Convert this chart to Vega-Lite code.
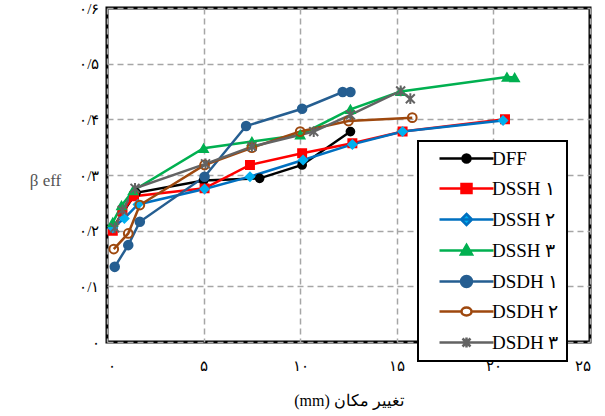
{
  "$schema": "https://vega.github.io/schema/vega-lite/v6.json",
  "width": 483,
  "height": 334,
  "autosize": {"type": "none"},
  "padding": {"left": 107, "top": 8, "right": 15, "bottom": 74},
  "background": "white",
  "config": {
    "view": {"stroke": "black", "strokeWidth": 3},
    "font": "Liberation Serif",
    "legend": {"labelFont": "Liberation Serif, serif", "labelFontWeight": 400},
    "axis": {
      "gridColor": "#A6A6A6",
      "gridDash": [6, 4],
      "gridWidth": 1.5,
      "domain": false,
      "ticks": false,
      "labelFont": "Liberation Serif",
      "labelFontSize": 15,
      "labelColor": "black",
      "titleFont": "Liberation Serif",
      "titleFontWeight": "normal",
      "titleColor": "black"
    }
  },
  "data": {
    "values": [
      {"s": "DFF", "x": 0.3, "y": 0.205},
      {"s": "DFF", "x": 1.5, "y": 0.268},
      {"s": "DFF", "x": 5.0, "y": 0.29},
      {"s": "DFF", "x": 7.9, "y": 0.294},
      {"s": "DFF", "x": 10.1, "y": 0.318},
      {"s": "DFF", "x": 12.6, "y": 0.378},
      {"s": "DSSH ۱", "x": 0.3, "y": 0.2},
      {"s": "DSSH ۱", "x": 0.8, "y": 0.235},
      {"s": "DSSH ۱", "x": 1.4, "y": 0.262},
      {"s": "DSSH ۱", "x": 5.05, "y": 0.276},
      {"s": "DSSH ۱", "x": 7.4, "y": 0.318},
      {"s": "DSSH ۱", "x": 10.1, "y": 0.339},
      {"s": "DSSH ۱", "x": 12.7, "y": 0.357},
      {"s": "DSSH ۱", "x": 15.3, "y": 0.378},
      {"s": "DSSH ۱", "x": 20.6, "y": 0.4},
      {"s": "DSSH ۲", "x": 0.3, "y": 0.205},
      {"s": "DSSH ۲", "x": 0.9, "y": 0.222},
      {"s": "DSSH ۲", "x": 1.6, "y": 0.247},
      {"s": "DSSH ۲", "x": 5.05, "y": 0.275},
      {"s": "DSSH ۲", "x": 7.4, "y": 0.297},
      {"s": "DSSH ۲", "x": 10.15, "y": 0.327},
      {"s": "DSSH ۲", "x": 12.7, "y": 0.355},
      {"s": "DSSH ۲", "x": 15.3, "y": 0.378},
      {"s": "DSSH ۲", "x": 20.5, "y": 0.398},
      {"s": "DSSH ۳", "x": 0.3, "y": 0.215},
      {"s": "DSSH ۳", "x": 0.75, "y": 0.245},
      {"s": "DSSH ۳", "x": 1.35, "y": 0.272},
      {"s": "DSSH ۳", "x": 5.0, "y": 0.348},
      {"s": "DSSH ۳", "x": 7.5, "y": 0.36},
      {"s": "DSSH ۳", "x": 10.0, "y": 0.372},
      {"s": "DSSH ۳", "x": 12.6, "y": 0.418},
      {"s": "DSSH ۳", "x": 15.2, "y": 0.45},
      {"s": "DSSH ۳", "x": 20.7, "y": 0.476},
      {"s": "DSSH ۳", "x": 21.1, "y": 0.475},
      {"s": "DSDH ۱", "x": 0.4, "y": 0.135},
      {"s": "DSDH ۱", "x": 1.1, "y": 0.174},
      {"s": "DSDH ۱", "x": 1.7, "y": 0.216},
      {"s": "DSDH ۱", "x": 5.05, "y": 0.297},
      {"s": "DSDH ۱", "x": 7.2, "y": 0.388},
      {"s": "DSDH ۱", "x": 10.1, "y": 0.419},
      {"s": "DSDH ۱", "x": 12.2, "y": 0.449},
      {"s": "DSDH ۱", "x": 12.6, "y": 0.449},
      {"s": "DSDH ۲", "x": 0.35, "y": 0.167},
      {"s": "DSDH ۲", "x": 1.1, "y": 0.195},
      {"s": "DSDH ۲", "x": 1.7, "y": 0.246},
      {"s": "DSDH ۲", "x": 5.05, "y": 0.318},
      {"s": "DSDH ۲", "x": 7.5, "y": 0.349},
      {"s": "DSDH ۲", "x": 10.0, "y": 0.378},
      {"s": "DSDH ۲", "x": 12.5, "y": 0.397},
      {"s": "DSDH ۲", "x": 15.8, "y": 0.403},
      {"s": "DSDH ۳", "x": 0.4, "y": 0.205},
      {"s": "DSDH ۳", "x": 0.8, "y": 0.237},
      {"s": "DSDH ۳", "x": 1.45, "y": 0.276},
      {"s": "DSDH ۳", "x": 5.1, "y": 0.32},
      {"s": "DSDH ۳", "x": 7.5, "y": 0.351},
      {"s": "DSDH ۳", "x": 10.7, "y": 0.378},
      {"s": "DSDH ۳", "x": 12.6, "y": 0.408},
      {"s": "DSDH ۳", "x": 15.2, "y": 0.451},
      {"s": "DSDH ۳", "x": 15.7, "y": 0.437}
    ]
  },
  "encoding": {
    "x": {
      "field": "x", "type": "quantitative",
      "scale": {"domain": [0, 25], "nice": false},
      "axis": {
        "values": [0, 5, 10, 15, 20, 25],
        "labelExpr": "['۰','۵','۱۰','۱۵','۲۰','۲۵'][round(datum.value/5)]",
        "labelPadding": 16,
        "title": "(mm) تغییر مکان",
        "titleFontSize": 16,
        "titlePadding": 19
      }
    },
    "y": {
      "field": "y", "type": "quantitative",
      "scale": {"domain": [0, 0.6], "nice": false},
      "axis": {
        "values": [0, 0.1, 0.2, 0.3, 0.4, 0.5, 0.6],
        "labelExpr": "datum.value == 0 ? '۰' : '۰/' + ['','۱','۲','۳','۴','۵','۶'][round(datum.value*10)]",
        "labelPadding": 8,
        "title": "β eff",
        "titleAngle": 0,
        "titleFontSize": 17,
        "titleColor": "#555555",
        "titleX": -62,
        "titleY": 172,
        "titleAlign": "center",
        "titleBaseline": "middle"
      }
    }
  },
  "layer": [
    {
      "mark": {"type": "line", "strokeWidth": 2.5},
      "encoding": {
        "stroke": {
          "field": "s", "type": "nominal",
          "scale": {
            "domain": ["DFF", "DSSH ۱", "DSSH ۲", "DSSH ۳", "DSDH ۱", "DSDH ۲", "DSDH ۳"],
            "range": ["#000000", "#FF0000", "#0070C0", "#00B050", "#255E91", "#9E480E", "#636363"]
          },
          "legend": {
            "title": null,
            "orient": "none",
            "legendX": 311,
            "legendY": 133,
            "padding": 8,
            "symbolSize": 100,
            "symbolOffset": 31,
            "labelOffset": 16,
            "rowPadding": 10,
            "labelFontSize": 19,
            "labelColor": "black",
            "labelLimit": 200,
            "symbolStrokeWidth": 2.5,
            "encode": {
              "legend": {"update": {"stroke": {"value": "black"}, "strokeWidth": {"value": 2}, "fill": {"value": "white"}}},
              "symbols": {
                "update": {
                  "shape": {"signal": "['M-5.4,0L5.4,0M-0.8,0A0.8,0.8 0 1,1 0.8,0A0.8,0.8 0 1,1 -0.8,0Z','M-5.4,0L5.4,0M-1,-0.9H1V0.9H-1Z','M-5.4,0L5.4,0M0,-1.1L1.1,0L0,1.1L-1.1,0Z','M-5.4,0L5.4,0M0,-1.1L1.1,0.8L-1.1,0.8Z','M-5.4,0L5.4,0M-1.1,0A1.1,1.1 0 1,1 1.1,0A1.1,1.1 0 1,1 -1.1,0Z','M-5.4,0L-1,0M1,0L5.4,0M-1,0A1,0.8 0 1,1 1,0A1,0.8 0 1,1 -1,0Z','M-5.4,0L5.4,0M-0.8,-0.8L0.8,0.8M-0.8,0.8L0.8,-0.8M0,-1L0,1'][indexof(['DFF','DSSH ۱','DSSH ۲','DSSH ۳','DSDH ۱','DSDH ۲','DSDH ۳'], datum.value)]"},
                  "fill": {"signal": "['#000000','#FF0000','#00B0F0','#00B050','#255E91','transparent','#636363'][indexof(['DFF','DSSH ۱','DSSH ۲','DSSH ۳','DSDH ۱','DSDH ۲','DSDH ۳'], datum.value)]"},
                  "strokeWidth": {"value": 2.5},
                  "opacity": {"value": 1}
                }
              }
            }
          }
        }
      }
    },
    {
      "mark": {"type": "point", "filled": false, "opacity": 1, "strokeWidth": 2},
      "encoding": {
        "shape": {
          "field": "s", "type": "nominal",
          "scale": {
            "domain": ["DFF", "DSSH ۱", "DSSH ۲", "DSSH ۳", "DSDH ۱", "DSDH ۲", "DSDH ۳"],
            "range": ["circle", "square", "diamond", "triangle-up", "circle", "circle", "M-1,-1L1,1M-1,1L1,-1M0,-1.2L0,1.2"]
          },
          "legend": null
        },
        "fill": {
          "field": "s", "type": "nominal",
          "scale": {
            "domain": ["DFF", "DSSH ۱", "DSSH ۲", "DSSH ۳", "DSDH ۱", "DSDH ۲", "DSDH ۳"],
            "range": ["#000000", "#FF0000", "#00B0F0", "#00B050", "#255E91", "transparent", "#636363"]
          },
          "legend": null
        },
        "stroke": {
          "field": "s", "type": "nominal",
          "scale": {
            "domain": ["DFF", "DSSH ۱", "DSSH ۲", "DSSH ۳", "DSDH ۱", "DSDH ۲", "DSDH ۳"],
            "range": ["#000000", "#FF0000", "#00B0F0", "#00B050", "#255E91", "#9E480E", "#636363"]
          },
          "legend": null
        },
        "size": {
          "field": "s", "type": "nominal",
          "scale": {
            "domain": ["DFF", "DSSH ۱", "DSSH ۲", "DSSH ۳", "DSDH ۱", "DSDH ۲", "DSDH ۳"],
            "range": [60, 80, 80, 110, 150, 130, 70]
          },
          "legend": null
        }
      }
    }
  ],
  "resolve": {"scale": {"stroke": "independent"}}
}
